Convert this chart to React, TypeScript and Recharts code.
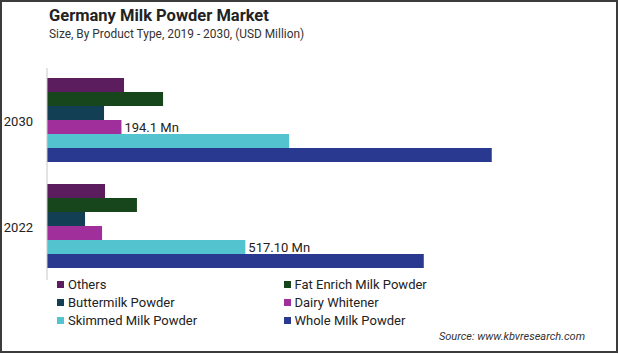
import { BarChart, Bar, XAxis, YAxis, Legend, LabelList } from 'recharts';

const years = ['2030', '2022'];
const others = [200.8, 151.3];
const fatEnrich = [302.6, 234.5];
const buttermilk = [148.7, 99.2];
const dairyWhitener = [194.1, 143.5];
const skimmed = [631.2, 517.1];
const wholeMilk = [1159.5, 982.3];
const dairyLabels = ['194.1 Mn', ''];
const skimmedLabels = ['', '517.10 Mn'];

const series = [
  { key: 'others', name: 'Others', color: '#5b1d5d' },
  { key: 'fatEnrich', name: 'Fat Enrich Milk Powder', color: '#17451c' },
  { key: 'buttermilk', name: 'Buttermilk Powder', color: '#133f54' },
  { key: 'dairyWhitener', name: 'Dairy Whitener', color: '#a12f9b' },
  { key: 'skimmed', name: 'Skimmed Milk Powder', color: '#52c3cf' },
  { key: 'wholeMilk', name: 'Whole Milk Powder', color: '#2a3990' },
];

const data = years.map((year, i) => ({
  year,
  others: others[i],
  fatEnrich: fatEnrich[i],
  buttermilk: buttermilk[i],
  dairyWhitener: dairyWhitener[i],
  skimmed: skimmed[i],
  wholeMilk: wholeMilk[i],
  dairyLabel: dairyLabels[i],
  skimmedLabel: skimmedLabels[i],
}));

const font = 'Roboto, sans-serif';
const order = series.map((s) => s.name);

function LegendGrid({ payload }: any) {
  const items = [...(payload || [])].sort((a: any, b: any) => order.indexOf(a.value) - order.indexOf(b.value));
  return (
    <div style={{ position: 'relative', width: 619, height: 60 }}>
      {items.map((item: any, i: number) => {
        const col = i % 2;
        const row = Math.floor(i / 2);
        return (
          <div
            key={item.value}
            style={{
              position: 'absolute',
              left: col === 0 ? 57 : 283.5,
              top: 10.7 + row * 18 - 9,
              height: 18,
              display: 'flex',
              alignItems: 'center',
              fontFamily: font,
              fontSize: 13,
              color: '#222',
              whiteSpace: 'nowrap',
            }}
          >
            <span style={{ width: 7, height: 7, background: item.color, marginRight: 4, display: 'inline-block' }} />
            {item.value}
          </div>
        );
      })}
    </div>
  );
}

export default function App() {
  return (
    <div style={{ position: 'absolute', left: 0, top: 0, width: 619, height: 354, background: '#fff' }}>
      <svg width={619} height={354} style={{ position: 'absolute', left: 0, top: 0 }}>
        <text x={49} y={21} fontFamily={font} fontSize={16.5} fontWeight={700} fill="#222">
          Germany Milk Powder Market
        </text>
        <text x={49} y={37.5} fontFamily={font} fontSize={11.9} fill="#333">
          Size, By Product Type, 2019 - 2030, (USD Million)
        </text>
        <text x={585} y={340} textAnchor="end" fontFamily={font} fontSize={11} fontStyle="italic" fill="#333">
          Source: www.kbvresearch.com
        </text>
      </svg>
      <div style={{ position: 'absolute', left: 0, top: 0 }}>
        <BarChart
          width={619}
          height={354}
          data={data}
          layout="vertical"
          margin={{ top: 68, right: 35, bottom: 74, left: 0 }}
          barCategoryGap={10}
          barGap={0}
        >
          <XAxis type="number" domain={[0, 1400]} hide />
          <YAxis
            type="category"
            dataKey="year"
            width={47}
            axisLine={{ stroke: '#c8c8c8' }}
            tickLine={false}
            tickSize={6}
            tickMargin={8}
            tick={{ fill: '#222', fontSize: 13, fontFamily: font }}
          />
          <Legend
            layout="horizontal"
            verticalAlign="middle"
            align="center"
            content={<LegendGrid />}
            wrapperStyle={{ position: 'absolute', left: 0, top: 274, width: 619, height: 60 }}
          />
          {series.map((s) => (
            <Bar key={s.key} dataKey={s.key} name={s.name} fill={s.color} isAnimationActive={false}>
              {s.key === 'dairyWhitener' && (
                <LabelList dataKey="dairyLabel" position="right" offset={3} fill="#222" fontSize={13} fontFamily={font} />
              )}
              {s.key === 'skimmed' && (
                <LabelList dataKey="skimmedLabel" position="right" offset={3} fill="#222" fontSize={13} fontFamily={font} />
              )}
            </Bar>
          ))}
        </BarChart>
      </div>
      <div
        style={{
          position: 'absolute',
          left: 0,
          top: 0,
          width: 618,
          height: 353,
          border: '2px solid #3c3c3c',
          boxSizing: 'border-box',
          pointerEvents: 'none',
        }}
      />
    </div>
  );
}
